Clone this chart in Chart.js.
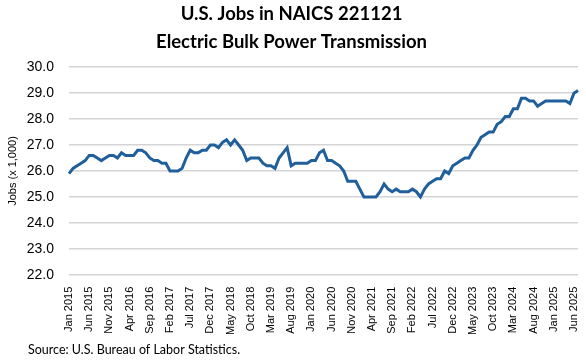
<!DOCTYPE html>
<html>
<head>
<meta charset="utf-8">
<script src="https://cdn.jsdelivr.net/npm/chart.js@4"></script>
<style>
  html, body { margin: 0; padding: 0; background: #fff; }
  #wrap { width: 586px; height: 363px; }
</style>
</head>
<body>
<div id="wrap"><canvas id="jobsChart" width="586" height="363"></canvas></div>
<script>
const monthNames = ['Jan', 'Feb', 'Mar', 'Apr', 'May', 'Jun', 'Jul', 'Aug', 'Sep', 'Oct', 'Nov', 'Dec'];
const firstYear = 2015;

// Jobs (thousands), Jan 2015 - Jul 2025
const jobs = [
    25.9, 26.1, 26.2, 26.3, 26.4, 26.6, 26.6, 26.5, 26.4, 26.5, 26.6, 26.6,
    26.5, 26.7, 26.6, 26.6, 26.6, 26.8, 26.8, 26.7, 26.5, 26.4, 26.4, 26.3,
    26.3, 26.0, 26.0, 26.0, 26.1, 26.5, 26.8, 26.7, 26.7, 26.8, 26.8, 27.0,
    27.0, 26.9, 27.1, 27.2, 27.0, 27.2, 27.0, 26.8, 26.4, 26.5, 26.5, 26.5,
    26.3, 26.2, 26.2, 26.1, 26.5, 26.7, 26.9, 26.2, 26.3, 26.3, 26.3, 26.3,
    26.4, 26.4, 26.7, 26.8, 26.4, 26.4, 26.3, 26.2, 26.0, 25.6, 25.6, 25.6,
    25.3, 25.0, 25.0, 25.0, 25.0, 25.2, 25.5, 25.3, 25.2, 25.3, 25.2, 25.2,
    25.2, 25.3, 25.2, 25.0, 25.3, 25.5, 25.6, 25.7, 25.7, 26.0, 25.9, 26.2,
    26.3, 26.4, 26.5, 26.5, 26.8, 27.0, 27.3, 27.4, 27.5, 27.5, 27.8, 27.9,
    28.1, 28.1, 28.4, 28.4, 28.8, 28.8, 28.7, 28.7, 28.5, 28.6, 28.7, 28.7,
    28.7, 28.7, 28.7, 28.7, 28.6, 29.0, 29.1
];

// month labels built from the start month
const months = jobs.map((v, i) => monthNames[i % 12] + ' ' + (firstYear + Math.floor(i / 12)));

const yMin = 22;
const yMax = 30;
const labelEvery = 5;

// source note under the chart
const sourceNote = {
    id: 'sourceNote',
    afterDraw(chart) {
        const ctx = chart.ctx;
        ctx.save();
        ctx.font = '12.5px Lato';
        ctx.fillStyle = '#000';
        ctx.textBaseline = 'middle';
        ctx.fillText('Source: U.S. Bureau of Labor Statistics.', 28, 350);
        ctx.restore();
    }
};

new Chart(document.getElementById('jobsChart'), {
    type: 'line',
    data: {
        labels: months,
        datasets: [{
            label: 'Jobs',
            data: jobs,
            borderColor: '#1f5f9c',
            borderWidth: 3,
            pointRadius: 0,
            tension: 0,
            fill: false
        }]
    },
    options: {
        responsive: false,
        animation: false,
        layout: {
            padding: { left: 5, right: 8, top: 0, bottom: 24 }
        },
        plugins: {
            legend: { display: false },
            tooltip: { enabled: false },
            title: {
                display: true,
                text: ['U.S. Jobs in NAICS 221121', 'Electric Bulk Power Transmission'],
                color: '#000',
                font: { family: 'Lato', size: 18.5, weight: 'bold', lineHeight: 1.52 },
                padding: { top: 0, bottom: 11 }
            }
        },
        scales: {
            x: {
                afterFit: (scale) => { scale.paddingLeft = 0; scale.paddingRight = 0; },
                grid: { display: false },
                border: { display: false },
                ticks: {
                    autoSkip: false,
                    maxRotation: 90,
                    minRotation: 90,
                    padding: 4,
                    color: '#000',
                    font: { family: 'Liberation Sans', size: 11 },
                    callback: function (value, index) {
                        return index % labelEvery === 0 ? months[index] : null;
                    }
                }
            },
            y: {
                min: yMin,
                max: yMax,
                afterFit: (scale) => { scale.width = 64; },
                grid: {
                    color: '#d4d4d4',
                    lineWidth: 1.5,
                    drawTicks: false
                },
                border: { display: false },
                ticks: {
                    stepSize: 1,
                    padding: 15,
                    color: '#000',
                    font: { family: 'Liberation Sans', size: 14 },
                    callback: (v) => v.toFixed(1)
                },
                title: {
                    display: true,
                    text: 'Jobs (x 1,000)',
                    color: '#000',
                    font: { family: 'Liberation Sans', size: 11 },
                    padding: { top: 1, bottom: 0 }
                }
            }
        }
    },
    plugins: [sourceNote]
});
</script>
</body>
</html>
